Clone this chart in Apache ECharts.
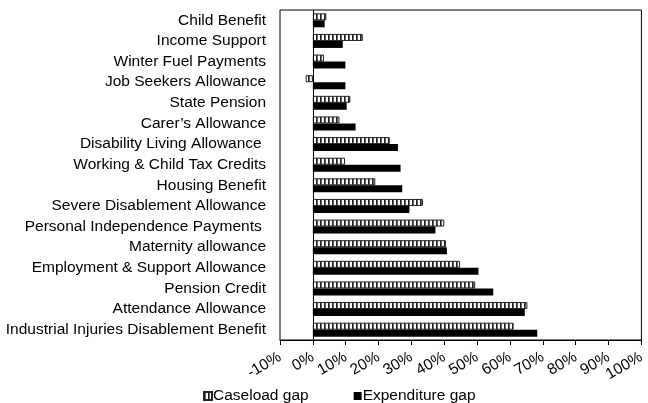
<!DOCTYPE html>
<html>
<head>
<meta charset="utf-8">
<script src="https://cdn.jsdelivr.net/npm/echarts@6/dist/echarts.min.js"></script>
<style>
  html, body { margin: 0; padding: 0; background: #fff; }
  #chart { width: 648px; height: 403px; }
</style>
</head>
<body>
<div id="chart"></div>
<script>
var categories = ['Child Benefit', 'Income Support', 'Winter Fuel Payments', 'Job Seekers Allowance',
  'State Pension', 'Carer\u2019s Allowance', 'Disability Living Allowance ', 'Working & Child Tax Credits',
  'Housing Benefit', 'Severe Disablement Allowance', 'Personal Independence Payments ',
  'Maternity allowance', 'Employment & Support Allowance', 'Pension Credit',
  'Attendance Allowance', 'Industrial Injuries Disablement Benefit'];
var caseloadGap = [4.1, 15.2, 3.4, -2.2, 11.4, 8.1, 23.4, 9.8, 19, 33.5, 40, 40.5, 44.8, 49.4, 65.3, 61.1];
var expenditureGap = [3.6, 9.1, 9.9, 9.9, 10.3, 13, 25.9, 26.7, 27.2, 29.4, 37.3, 40.8, 50.4, 54.9, 64.5, 68.3];

// vertical stripe fill for the caseload bars
var tile = document.createElement('canvas');
tile.width = 4; tile.height = 4;
var ctx = tile.getContext('2d');
ctx.fillStyle = '#fff';
ctx.fillRect(0, 0, 4, 4);
ctx.fillStyle = '#222';
ctx.fillRect(0, 0, 1, 4);
ctx.fillStyle = '#666';
ctx.fillRect(1, 0, 1, 4);

var font = 'Liberation Sans, Arial, sans-serif';
var chart = echarts.init(document.getElementById('chart'));
chart.setOption({
  animation: false,
  grid: {
    left: 280, right: 3, top: 10, bottom: 63,
    show: true, borderColor: '#000', borderWidth: 1
  },
  legend: {
    bottom: -6, left: 198,
    itemWidth: 8, itemHeight: 8, itemGap: 45,
    icon: 'rect',
    textStyle: { fontFamily: font, fontSize: 15.5, color: '#000', padding: [0, 0, 0, -4] },
    data: ['Caseload gap', 'Expenditure gap']
  },
  xAxis: {
    type: 'value',
    min: -10, max: 100, interval: 10,
    splitLine: { show: false },
    axisLine: { show: true, lineStyle: { color: '#000' } },
    axisTick: { show: true, length: 5, lineStyle: { color: '#000' } },
    axisLabel: {
      formatter: '{value}%', rotate: 30, margin: 16, lineHeight: 14,
      showMinLabel: true, showMaxLabel: true, hideOverlap: false,
      fontFamily: font, fontSize: 15.5, color: '#000'
    }
  },
  yAxis: {
    type: 'category',
    inverse: true,
    data: categories,
    axisLine: { show: false },
    axisTick: { show: false },
    axisLabel: { interval: 0, margin: 14, fontFamily: font, fontSize: 15.5, color: '#000' }
  },
  series: [{
    name: 'Caseload gap',
    type: 'bar',
    data: caseloadGap,
    barWidth: 7,
    barGap: '0%',
    itemStyle: {
      color: { image: tile, repeat: 'repeat' },
      borderColor: '#222',
      borderWidth: 1
    },
    markLine: {
      silent: true,
      symbol: 'none',
      label: { show: false },
      lineStyle: { color: '#000', type: 'solid', width: 1 },
      data: [{ xAxis: 0 }]
    }
  }, {
    name: 'Expenditure gap',
    type: 'bar',
    data: expenditureGap,
    barWidth: 7,
    itemStyle: { color: '#000' }
  }]
});
</script>
</body>
</html>
